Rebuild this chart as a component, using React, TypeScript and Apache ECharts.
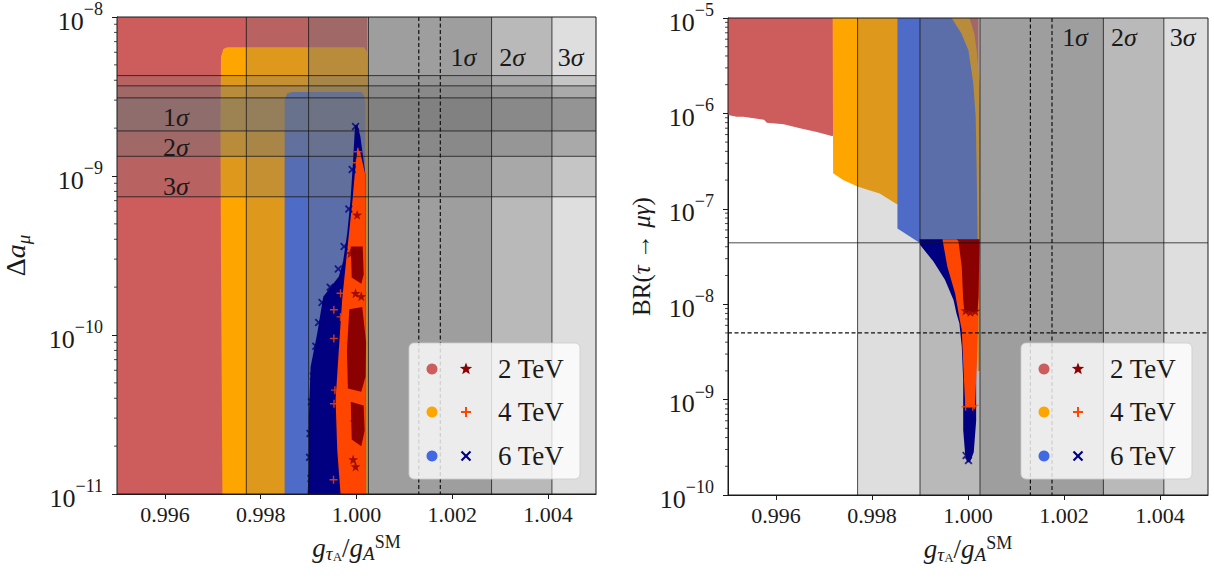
import React, { useEffect, useRef } from 'react';
import * as echarts from 'echarts';

type P = [number, number];

const FONT = '"Liberation Serif", "DejaVu Serif", serif';
const INK = '#1a1a1a';

// ---------- axes ----------
const X_MIN = 0.995;
const X_MAX = 1.005;
const X_TICKS = [0.996, 0.998, 1.0, 1.002, 1.004];
const L_Y_MIN = 1e-11;
const L_Y_MAX = 1e-8;
const R_Y_MIN = 1e-10;
const R_Y_MAX = 1e-5;
const MINOR_MULT = [2, 3, 4, 5, 6, 7, 8, 9];
const L_DECADES = [1e-11, 1e-10, 1e-9];
const R_DECADES = [1e-10, 1e-9, 1e-8, 1e-7, 1e-6];

// ---------- experimental bands ----------
const X_BAND_LO = [0.9977, 0.999, 1.00025]; // 3σ, 2σ, 1σ
const X_BAND_HI = [1.0054, 1.00408, 1.00282];
const AMU_BAND_LO = [7.4e-10, 1.33e-9, 1.92e-9];
const AMU_BAND_HI = [4.28e-9, 3.69e-9, 3.1e-9];
const BAND_FILL = ['rgba(117,117,117,0.24)', 'rgba(117,117,117,0.35)', 'rgba(117,117,117,0.40)'];
const DASHED_X = [1.0013, 1.00175];
const BR_LIMIT = 4.4e-8;
const BR_FUTURE = 5.0e-9;
const SIGMA_NAMES = ['3', '2', '1'];
const X_SIGMA_LABEL_X = [1.00447, 1.00325, 1.00223];
const L_XSIGMA_LABEL_Y = 5.6e-9;
const R_XSIGMA_LABEL_Y = 6.3e-6;
const AMU_SIGMA_LABEL_X = 0.99623;
const AMU_SIGMA_LABEL_Y = [8.65e-10, 1.52e-9, 2.32e-9];

// ---------- colours ----------
const REGION_COLORS = ['#cd5c5c', '#ffa500', '#4169e1']; // 2, 4, 6 TeV
const CLOUD_COLORS = ['#8b0000', '#ff4500', '#000080'];
const LEGEND_LABELS = ['2 TeV', '4 TeV', '6 TeV'];

// ---------- left panel (Δa_μ) ----------
const L_REGION_2TEV: P[] = [[0.995, 1e-11], [0.995, 1e-8], [1.00023, 1e-8], [1.00023, 1e-11]];
const L_REGION_4TEV: P[] = [[0.9972, 1e-11], [0.99717, 3e-10], [0.99716, 2e-9], [0.99717, 5.6e-9], [0.99722, 6.3e-9], [0.9973, 6.45e-9], [1.00016, 6.45e-9], [1.00021, 6.1e-9], [1.00024, 5.5e-9], [1.00024, 1e-11]];
const L_REGION_6TEV: P[] = [[0.9985, 1e-11], [0.9985, 3.0e-9], [0.99855, 3.3e-9], [0.99865, 3.38e-9], [1.0001, 3.38e-9], [1.00016, 3.2e-9], [1.00018, 2.9e-9], [1.00019, 1e-11]];
const L_CLOUD_6TEV: P[][] = [[[0.99997, 2.09e-9], [0.99993, 1.26e-9], [0.999875, 7.06e-10], [0.999806, 4.37e-10], [0.99972, 2.9e-10], [0.999631, 2.33e-10], [0.999306, 1.74e-10], [0.999181, 1.03e-10], [0.999042, 6.3e-11], [0.999006, 3.06e-11], [0.999006, 1.49e-11], [0.99898, 1e-11], [1.00018, 1e-11], [1.00019, 1e-9], [1.00008, 1.78e-9], [1.00002, 2.09e-9]]];
const L_CLOUD_4TEV: P[][] = [[[1.00002, 1.5e-9], [0.99996, 1e-9], [0.999917, 7.06e-10], [0.999771, 2.7e-10], [0.9997, 1.66e-10], [0.999631, 8.05e-11], [0.999563, 3.9e-11], [0.999598, 1.89e-11], [0.999667, 1e-11], [1.00019, 1e-11], [1.00019, 1e-9], [1.00008, 1.4e-9]]];
const L_CLOUD_2TEV: P[][] = [
  [[0.99988, 3.6e-10], [1.00013, 3.6e-10], [1.00015, 2.4e-10], [1.0001, 2.1e-10], [0.9999, 2.3e-10]],
  [[0.99985, 1.45e-10], [1.00012, 1.5e-10], [1.0002, 9e-11], [1.00019, 5.5e-11], [1.0001, 4.4e-11], [0.99982, 4.6e-11], [0.9998, 8e-11]],
  [[0.99988, 3.8e-11], [1.00015, 3.6e-11], [1.00017, 2.5e-11], [1.0001, 2.0e-11], [0.9999, 2.2e-11]],
];
const L_MARK_6TEV: P[] = [[0.99998, 2.05e-9], [0.99991, 1.1e-9], [0.99984, 6.2e-10], [0.99974, 3.6e-10], [0.99962, 2.6e-10], [0.99945, 2.0e-10], [0.99928, 1.6e-10], [0.99921, 1.2e-10], [0.99915, 8.5e-11], [0.9991, 5.5e-11], [0.99906, 3.8e-11], [0.99903, 2.4e-11], [0.99902, 1.7e-11], [0.99905, 1.25e-11]];
const L_MARK_4TEV: P[] = [[1.000028, 1.42e-9], [1.0, 1.21e-9], [1.000083, 1.06e-9], [0.999667, 1.83e-10], [0.999527, 1.44e-10], [0.999667, 1.3e-10], [0.999527, 9.5e-11], [0.99955, 4.5e-11], [0.99953, 3.7e-11], [0.99952, 1.23e-11]];
const L_MARK_2TEV: P[] = [[1.000014, 5.7e-10], [0.999875, 3.27e-10], [0.99998, 1.83e-10], [1.0001, 1.75e-10], [0.99993, 1.65e-11], [0.99998, 1.49e-11], [0.99996, 2.85e-11]];

// ---------- right panel (BR(τ→μγ)) ----------
const R_REGION_2TEV: P[] = [[0.995, 9.6e-7], [0.995, 1e-5], [1.00022, 1e-5], [1.00022, 1e-6], [0.99716, 5.8e-7], [0.99685, 6.4e-7], [0.9965, 7.0e-7], [0.99616, 7.7e-7], [0.99581, 8.0e-7], [0.99575, 8.6e-7], [0.99532, 9.2e-7], [0.99518, 9.2e-7]];
const R_REGION_4TEV: P[] = [[0.99719, 2.36e-7], [0.99718, 1e-5], [1.00003, 1e-5], [1.00013, 6.9e-6], [1.00018, 4.6e-6], [1.00024, 2.07e-6], [1.00025, 1e-6], [1.00025, 2e-9], [1.0002, 2e-9], [1.0002, 4.5e-8], [0.9999, 1.12e-7], [0.99851, 1.12e-7], [0.99816, 1.45e-7], [0.99771, 1.7e-7], [0.9974, 2.0e-7]];
const R_REGION_6TEV: P[] = [[0.99853, 6.2e-8], [0.99853, 1e-5], [0.99966, 1e-5], [0.99986, 6.9e-6], [1.00001, 4.6e-6], [1.00011, 2.07e-6], [1.00016, 9.2e-7], [1.00018, 2.76e-7], [1.0002, 5.5e-8], [1.0002, 4.7e-8], [0.99899, 4.4e-8]];
const R_CLOUD_6TEV: P[][] = [[[0.99899, 4.8e-8], [1.00022, 4.8e-8], [1.0002, 1e-8], [1.00017, 2e-9], [1.00017, 6e-10], [1.00012, 2.8e-10], [1.00004, 2.2e-10], [0.99998, 2.2e-10], [0.99994, 2.7e-10], [0.9999, 4.8e-10], [0.9999, 1.6e-9], [0.99987, 3.6e-9], [0.99982, 6.3e-9], [0.99976, 8.0e-9], [0.9997, 1.1e-8], [0.99952, 1.8e-8], [0.99928, 2.8e-8], [0.999, 4.2e-8]]];
const R_CLOUD_4TEV: P[][] = [[[0.99947, 4.8e-8], [1.00024, 4.8e-8], [1.00021, 5.4e-9], [1.00015, 9e-10], [1.00012, 8.3e-10], [0.99996, 8.3e-10], [0.99994, 9.1e-10], [0.9999, 2.4e-9], [0.99987, 5.4e-9], [0.99983, 6.8e-9], [0.99973, 1.3e-8], [0.99957, 2.47e-8], [0.99947, 4.7e-8]]];
const R_CLOUD_2TEV: P[][] = [[[0.99976, 4.8e-8], [1.00024, 4.8e-8], [1.00022, 1.2e-8], [1.0002, 8.6e-9], [1.0001, 8.3e-9], [0.99992, 8.8e-9], [0.9999, 1.1e-8], [0.99987, 2.47e-8], [0.9998, 4.6e-8]]];
const R_MARK_6TEV: P[] = [[1.00001, 2.3e-10], [0.99996, 2.6e-10]];
const R_MARK_4TEV: P[] = [[0.99995, 8.4e-10], [1.0001, 8.4e-10], [1.00013, 8.7e-10]];
const R_MARK_2TEV: P[] = [[0.99995, 8.6e-9], [1.00005, 8.3e-9], [1.00015, 8.5e-9]];

// ---------- marker shapes ----------
const SYM_X = 'path://M0,1.6L1.6,0L5,3.4L8.4,0L10,1.6L6.6,5L10,8.4L8.4,10L5,6.6L1.6,10L0,8.4L3.4,5Z';
const SYM_PLUS = 'path://M4.1,0H5.9V4.1H10V5.9H5.9V10H4.1V5.9H0V4.1H4.1Z';
const SYM_STAR = 'path://M5,0L6.18,3.38L9.76,3.45L6.9,5.62L7.94,9.05L5,7L2.06,9.05L3.1,5.62L0.24,3.45L3.82,3.38Z';
const CLOUD_SYMBOLS = [SYM_STAR, SYM_PLUS, SYM_X];

const TICK_RICH = {
  b: { fontFamily: FONT, fontSize: 26, color: INK, lineHeight: 34, verticalAlign: 'bottom' },
  s: { fontFamily: FONT, fontSize: 18, color: INK, lineHeight: 18, verticalAlign: 'top' },
};
const expLabel = (v: number) => {
  const e = Math.round(Math.log10(v));
  return `{b|10}{s|${e < 0 ? '\u2212' : ''}${Math.abs(e)}}`;
};

const X_NAME = '{i|g}{s1|τ}{s2|A}{u|/}{i|g}{s1|A}{sp|SM}';
const X_NAME_RICH = {
  i: { fontFamily: FONT, fontStyle: 'italic', fontSize: 27, color: INK, lineHeight: 30, verticalAlign: 'middle' },
  u: { fontFamily: FONT, fontSize: 27, color: INK, lineHeight: 30, verticalAlign: 'middle' },
  s1: { fontFamily: FONT, fontStyle: 'italic', fontSize: 19, color: INK, lineHeight: 28, verticalAlign: 'bottom' },
  s2: { fontFamily: FONT, fontSize: 13, color: INK, lineHeight: 14, verticalAlign: 'bottom' },
  sp: { fontFamily: FONT, fontSize: 18, color: INK, lineHeight: 20, verticalAlign: 'top' },
};

function minorValues(decades: number[]) {
  const out: number[] = [];
  decades.forEach((d) => MINOR_MULT.forEach((m) => out.push(m * d)));
  return out;
}

function polygonSeries(gi: number, pts: P[], fill: string, z: number) {
  return {
    type: 'custom',
    coordinateSystem: 'cartesian2d',
    xAxisIndex: gi,
    yAxisIndex: gi,
    z,
    silent: true,
    data: [pts[0]],
    renderItem: (_params: any, api: any) => ({
      type: 'polygon',
      shape: { points: pts.map((p) => api.coord(p)) },
      style: { fill },
    }),
  };
}

function groupSeries(gi: number, yMin: number, z: number, build: (api: any, cs: any) => any[]) {
  return {
    type: 'custom',
    coordinateSystem: 'cartesian2d',
    xAxisIndex: gi,
    yAxisIndex: gi,
    z,
    silent: true,
    data: [[X_MIN, yMin]],
    renderItem: (params: any, api: any) => ({ type: 'group', children: build(api, params.coordSys) }),
  };
}

function sigmaText(x: number, y: number, n: string) {
  return {
    type: 'text',
    x,
    y,
    style: {
      text: `{n|${n}}{i|σ}`,
      rich: {
        n: { fontFamily: FONT, fontSize: 26, fill: INK },
        i: { fontFamily: FONT, fontStyle: 'italic', fontSize: 26, fill: INK },
      },
      align: 'center',
      verticalAlign: 'middle',
    },
  };
}

function buildPanel(gi: number, yMin: number, yMax: number, decades: number[], regions: P[][], clouds: P[][][], marks: P[][], isLeft: boolean) {
  const series: any[] = [];
  regions.forEach((r, i) => series.push(polygonSeries(gi, r, REGION_COLORS[i], 1 + i * 0.01)));

  // grey sigma overlays
  series.push(
    groupSeries(gi, yMin, 2, (api, cs) => {
      const ch: any[] = [];
      const x0 = cs.x;
      const x1 = cs.x + cs.width;
      X_BAND_LO.forEach((lo, i) => {
        const a = api.coord([lo, yMax]);
        const b = api.coord([X_BAND_HI[i], yMin]);
        const l = Math.max(x0, a[0]);
        const r = Math.min(x1, b[0]);
        ch.push({ type: 'rect', shape: { x: l, y: cs.y, width: r - l, height: cs.height }, style: { fill: BAND_FILL[i] } });
      });
      if (isLeft) {
        AMU_BAND_LO.forEach((lo, i) => {
          const a = api.coord([X_MIN, AMU_BAND_HI[i]]);
          const b = api.coord([X_MIN, lo]);
          ch.push({ type: 'rect', shape: { x: x0, y: a[1], width: cs.width, height: b[1] - a[1] }, style: { fill: BAND_FILL[i] } });
        });
      }
      return ch;
    })
  );

  // scatter clouds (dense cores as areas, sparse edge points as markers)
  [2, 1, 0].forEach((i) => {
    clouds[i].forEach((poly) => series.push(polygonSeries(gi, poly, CLOUD_COLORS[i], 3 + (2 - i) * 0.01)));
  });
  marks.forEach((m, i) =>
    series.push({
      type: 'scatter',
      xAxisIndex: gi,
      yAxisIndex: gi,
      data: m,
      symbol: CLOUD_SYMBOLS[i],
      symbolSize: i === 0 ? 10 : 8,
      itemStyle: { color: CLOUD_COLORS[i] },
      z: 4 + (2 - i) * 0.01,
      silent: true,
    })
  );

  // lines, labels, frame, minor ticks
  series.push(
    groupSeries(gi, yMin, 5, (api, cs) => {
      const ch: any[] = [];
      const edgeStyle = { stroke: 'rgba(20,20,20,0.85)', lineWidth: 0.9 };
      const vEdges = [...X_BAND_LO, ...X_BAND_HI].filter((v) => v > X_MIN && v < X_MAX);
      vEdges.forEach((v) => {
        const p = api.coord([v, yMin]);
        ch.push({ type: 'line', shape: { x1: p[0], y1: cs.y, x2: p[0], y2: cs.y + cs.height }, style: edgeStyle });
      });
      DASHED_X.forEach((v) => {
        const p = api.coord([v, yMin]);
        ch.push({ type: 'line', shape: { x1: p[0], y1: cs.y, x2: p[0], y2: cs.y + cs.height }, style: { stroke: '#111', lineWidth: 1.2, lineDash: [4, 2.5] } });
      });
      if (isLeft) {
        [...AMU_BAND_LO, ...AMU_BAND_HI].forEach((v) => {
          const p = api.coord([X_MIN, v]);
          ch.push({ type: 'line', shape: { x1: cs.x, y1: p[1], x2: cs.x + cs.width, y2: p[1] }, style: edgeStyle });
        });
        AMU_SIGMA_LABEL_Y.forEach((y, i) => {
          const p = api.coord([AMU_SIGMA_LABEL_X, y]);
          ch.push(sigmaText(p[0], p[1], SIGMA_NAMES[i]));
        });
      } else {
        const p = api.coord([X_MIN, BR_LIMIT]);
        ch.push({ type: 'line', shape: { x1: cs.x, y1: p[1], x2: cs.x + cs.width, y2: p[1] }, style: edgeStyle });
        const q = api.coord([X_MIN, BR_FUTURE]);
        ch.push({ type: 'line', shape: { x1: cs.x, y1: q[1], x2: cs.x + cs.width, y2: q[1] }, style: { stroke: '#111', lineWidth: 1.2, lineDash: [4, 2.5] } });
      }
      X_SIGMA_LABEL_X.forEach((x, i) => {
        const p = api.coord([x, isLeft ? L_XSIGMA_LABEL_Y : R_XSIGMA_LABEL_Y]);
        ch.push(sigmaText(p[0], p[1], SIGMA_NAMES[i]));
      });
      minorValues(decades).forEach((v) => {
        const p = api.coord([X_MIN, v]);
        ch.push({ type: 'line', shape: { x1: cs.x - 3, y1: p[1], x2: cs.x, y2: p[1] }, style: { stroke: INK, lineWidth: 0.8 } });
      });
      ch.push({ type: 'rect', shape: { x: cs.x, y: cs.y, width: cs.width, height: cs.height }, style: { fill: 'none', stroke: INK, lineWidth: 1 } });
      return ch;
    })
  );
  return series;
}

function starPoints(cx: number, cy: number, R: number, r: number) {
  const pts: number[][] = [];
  for (let k = 0; k < 10; k++) {
    const a = -Math.PI / 2 + (k * Math.PI) / 5;
    const rad = k % 2 === 0 ? R : r;
    pts.push([cx + rad * Math.cos(a), cy + rad * Math.sin(a)]);
  }
  return pts;
}

function legendGraphic(x0: number, y0: number) {
  const els: any[] = [
    { type: 'rect', shape: { x: x0, y: y0, width: 171, height: 136, r: 5 }, style: { fill: 'rgba(255,255,255,0.8)', stroke: 'rgba(204,204,204,0.8)', lineWidth: 1 }, z: 100 },
  ];
  const rows = [y0 + 26, y0 + 69, y0 + 113];
  rows.forEach((y, i) => {
    els.push({ type: 'circle', shape: { cx: x0 + 23, cy: y, r: 5.5 }, style: { fill: REGION_COLORS[i] }, z: 101 });
    const mx = x0 + 57;
    if (i === 0) {
      els.push({ type: 'polygon', shape: { points: starPoints(mx, y, 6.5, 2.7) }, style: { fill: CLOUD_COLORS[0] }, z: 101 });
    } else if (i === 1) {
      els.push({ type: 'line', shape: { x1: mx - 5, y1: y, x2: mx + 5, y2: y }, style: { stroke: CLOUD_COLORS[1], lineWidth: 2 }, z: 101 });
      els.push({ type: 'line', shape: { x1: mx, y1: y - 5, x2: mx, y2: y + 5 }, style: { stroke: CLOUD_COLORS[1], lineWidth: 2 }, z: 101 });
    } else {
      els.push({ type: 'line', shape: { x1: mx - 4.5, y1: y - 4.5, x2: mx + 4.5, y2: y + 4.5 }, style: { stroke: CLOUD_COLORS[2], lineWidth: 2.2 }, z: 101 });
      els.push({ type: 'line', shape: { x1: mx - 4.5, y1: y + 4.5, x2: mx + 4.5, y2: y - 4.5 }, style: { stroke: CLOUD_COLORS[2], lineWidth: 2.2 }, z: 101 });
    }
    els.push({
      type: 'text',
      x: x0 + 89,
      y,
      style: { text: LEGEND_LABELS[i], fontFamily: FONT, fontSize: 27, fill: INK, align: 'left', verticalAlign: 'middle' },
      z: 101,
    });
  });
  return els;
}

function xAxisCfg(gi: number) {
  return {
    gridIndex: gi,
    type: 'value',
    min: X_MIN,
    max: X_MAX,
    axisLine: { show: true, onZero: false, lineStyle: { color: INK, width: 1 } },
    axisTick: { show: true, length: 5, customValues: X_TICKS, lineStyle: { color: INK } },
    axisLabel: { customValues: X_TICKS, formatter: (v: number) => v.toFixed(3), fontFamily: FONT, fontSize: 22, color: INK, margin: 9 },
    splitLine: { show: false },
    name: X_NAME,
    nameLocation: 'middle',
    nameGap: 39,
    nameTextStyle: { rich: X_NAME_RICH },
  };
}

function yAxisCfg(gi: number, min: number, max: number, name: string, rich: any, gap: number) {
  return {
    gridIndex: gi,
    type: 'log',
    logBase: 10,
    min,
    max,
    axisLine: { show: true, lineStyle: { color: INK, width: 1 } },
    axisTick: { show: true, length: 5, lineStyle: { color: INK } },
    axisLabel: { formatter: expLabel, rich: TICK_RICH, margin: 14 },
    splitLine: { show: false },
    minorTick: { show: false },
    name,
    nameLocation: 'middle',
    nameRotate: 90,
    nameGap: gap,
    nameTextStyle: { rich },
  };
}

const AMU_NAME = '{u|Δ}{i|a}{s|μ}';
const AMU_RICH = {
  u: { fontFamily: FONT, fontSize: 28, color: INK, lineHeight: 32, verticalAlign: 'top' },
  i: { fontFamily: FONT, fontStyle: 'italic', fontSize: 28, color: INK, lineHeight: 32, verticalAlign: 'top' },
  s: { fontFamily: FONT, fontStyle: 'italic', fontSize: 19, color: INK, lineHeight: 24, verticalAlign: 'bottom' },
};
const BR_NAME = '{u|BR(}{i|τ}{u| → }{i|μγ}{u|)}';
const BR_RICH = {
  u: { fontFamily: FONT, fontSize: 25, color: INK, lineHeight: 30 },
  i: { fontFamily: FONT, fontStyle: 'italic', fontSize: 25, color: INK, lineHeight: 30 },
};

export default function App() {
  const ref = useRef<HTMLDivElement>(null);
  useEffect(() => {
    if (!ref.current) return;
    const chart = echarts.init(ref.current, undefined, { renderer: 'svg' });
    const series = [
      ...buildPanel(0, L_Y_MIN, L_Y_MAX, L_DECADES, [L_REGION_2TEV, L_REGION_4TEV, L_REGION_6TEV], [L_CLOUD_2TEV, L_CLOUD_4TEV, L_CLOUD_6TEV], [L_MARK_2TEV, L_MARK_4TEV, L_MARK_6TEV], true),
      ...buildPanel(1, R_Y_MIN, R_Y_MAX, R_DECADES, [R_REGION_2TEV, R_REGION_4TEV, R_REGION_6TEV], [R_CLOUD_2TEV, R_CLOUD_4TEV, R_CLOUD_6TEV], [R_MARK_2TEV, R_MARK_4TEV, R_MARK_6TEV], false),
    ];
    chart.setOption({
      animation: false,
      backgroundColor: '#ffffff',
      grid: [
        { left: 116, top: 17, width: 480, height: 477 },
        { left: 728, top: 18, width: 480, height: 477 },
      ],
      xAxis: [xAxisCfg(0), xAxisCfg(1)],
      yAxis: [yAxisCfg(0, L_Y_MIN, L_Y_MAX, AMU_NAME, AMU_RICH, 84), yAxisCfg(1, R_Y_MIN, R_Y_MAX, BR_NAME, BR_RICH, 72)],
      series,
      graphic: [...legendGraphic(409, 343), ...legendGraphic(1021, 343)],
    });
    return () => chart.dispose();
  }, []);
  return <div ref={ref} style={{ position: 'fixed', left: 0, top: 0, width: 1214, height: 582 }} />;
}
